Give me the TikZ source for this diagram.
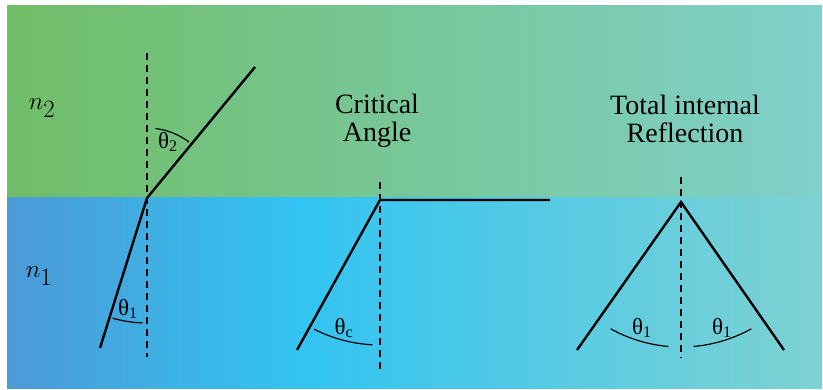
\documentclass[tikz,border=0pt]{standalone}
\usepackage{fontspec}
\setmainfont{Liberation Serif}
\usetikzlibrary{calc}
\definecolor{upL}{RGB}{112,190,102}
\definecolor{upR}{RGB}{128,208,204}
\definecolor{loL}{RGB}{76,154,214}
\definecolor{loM}{RGB}{50,196,242}
\definecolor{loR}{RGB}{126,210,210}
\pgfdeclarehorizontalshading{upperglass}{100bp}{color(0bp)=(upL); color(25bp)=(upL); color(75bp)=(upR); color(100bp)=(upR)}
\pgfdeclarehorizontalshading{lowerglass}{100bp}{color(0bp)=(loL); color(25bp)=(loL); color(43bp)=(loM); color(75bp)=(loR); color(100bp)=(loR)}
\tikzset{
  ray/.style={line width=2.4pt, line join=miter},
  normal/.style={line width=1.2pt, dash pattern=on 7pt off 5pt},
  anglearc/.style={line width=1.2pt},
}

\begin{document}
\begin{tikzpicture}[
  x=1pt, y=-1pt,
  title/.style={font=\fontsize{28}{28}\selectfont, align=center, inner sep=0pt},
  sym/.style={font=\fontsize{23}{24}\selectfont, inner sep=0pt},
  medium/.style={font=\fontsize{36}{38}\selectfont, inner sep=0pt},
]
  \useasboundingbox (0,0) rectangle (823,389);
  \fill[white] (0,0) rectangle (823,389);
  \shade[shading=upperglass] (7,5) rectangle (822,197.5);
  \shade[shading=lowerglass] (7,197.5) rectangle (822,388);

  \node[medium] (m2) at (42,108) {$n_2$};
  \node[medium] (m1) at (39,276) {$n_1$};

  \coordinate (p1) at (147,198);
  \coordinate (a1) at (100,348);
  \coordinate (b1) at (255,67);
  \coordinate (t1) at (147,53);
  \coordinate (s1) at (147,357);

  \coordinate (p2) at (380,200);
  \coordinate (a2) at (297,350);
  \coordinate (b2) at (550,200);
  \coordinate (t2) at (380,182);
  \coordinate (s2) at (380,373);

  \coordinate (p3) at (681,202);
  \coordinate (a3) at (577,350);
  \coordinate (b3) at (784,350);
  \coordinate (t3) at (681,177);
  \coordinate (s3) at (681,358);

  \foreach \a/\b in {t1/s1,t2/s2,t3/s3}
    \draw[normal] (\a) -- (\b);
  \foreach \a/\p/\b in {a1/p1/b1,a2/p2/b2,a3/p3/b3}
    \draw[ray] (\a) -- (\p) -- (\b);

  \draw[anglearc] ([shift={(83:70pt)}]p1) arc[start angle=83, end angle=53, radius=70pt];
  \draw[anglearc] ([shift={(254:125pt)}]p1) arc[start angle=254, end angle=268, radius=125pt];
  \draw[anglearc] ([shift={(243:145pt)}]p2) arc[start angle=243, end angle=267, radius=145pt];
  \draw[anglearc] ([shift={(241:145pt)}]p3) arc[start angle=241, end angle=265, radius=145pt];
  \draw[anglearc] ([shift={(275:145pt)}]p3) arc[start angle=275, end angle=299, radius=145pt];

  \node[sym] (th2) at (168,142) {θ\textsubscript{2}};
  \node[sym] (th1) at (128,309) {θ\textsubscript{1}};
  \node[sym] (thc) at (344,328) {θ\textsubscript{c}};
  \node[sym] (thl) at (642,328) {θ\textsubscript{1}};
  \node[sym] (thr) at (722,328) {θ\textsubscript{1}};

  \node[title] (crit) at (377,121) {Critical\\Angle};
  \node[title] (tir) at (685,119) {Total internal\\Reflection};
\end{tikzpicture}
\end{document}
